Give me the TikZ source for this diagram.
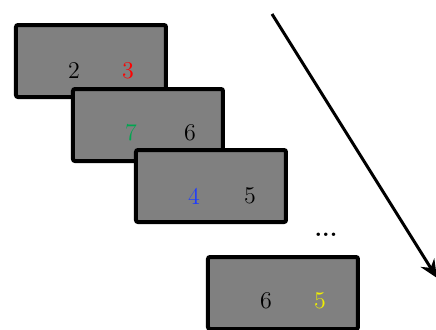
\documentclass[tikz,border=0pt]{standalone}
\usetikzlibrary{arrows.meta}
\definecolor{dgreen}{RGB}{0,166,80}
\definecolor{dblue}{RGB}{30,60,255}
\definecolor{dyellow}{RGB}{240,240,0}
\begin{document}
\begin{tikzpicture}[x=0.5pt,y=-0.5pt,
  card/.style={draw=black, fill=gray, line width=2pt, rounded corners=1pt,
    minimum width=75pt, minimum height=36pt, anchor=north west, inner sep=0pt},
  digit/.style={font=\large, inner sep=0pt}]
\useasboundingbox (0,0) rectangle (436,329);
\node[card] (b1) at (14,23) {};
\node[digit] (t12) at (74,71) {2};
\node[digit, text=red] (t13) at (128,71) {3};
\node[card] (b2) at (71,87) {};
\node[digit, text=dgreen] (t27) at (131,133) {7};
\node[digit] (t26) at (190,133) {6};
\node[card] (b3) at (134,148) {};
\node[digit, text=dblue] (t34) at (194,196) {4};
\node[digit] (t35) at (250,196) {5};
\node[font=\large\bfseries, inner sep=0pt] (dots) at (326,235) {...};
\node[card] (b4) at (206,255) {};
\node[digit] (t46) at (266,301) {6};
\node[digit, text=dyellow] (t45) at (320,301) {5};
\coordinate (a0) at (272,14);
\coordinate (a1) at (437,278);
\draw[line width=1.5pt, -{Stealth[length=9pt, width=8pt, inset=3pt]}] (a0) -- (a1);
\end{tikzpicture}
\end{document}
